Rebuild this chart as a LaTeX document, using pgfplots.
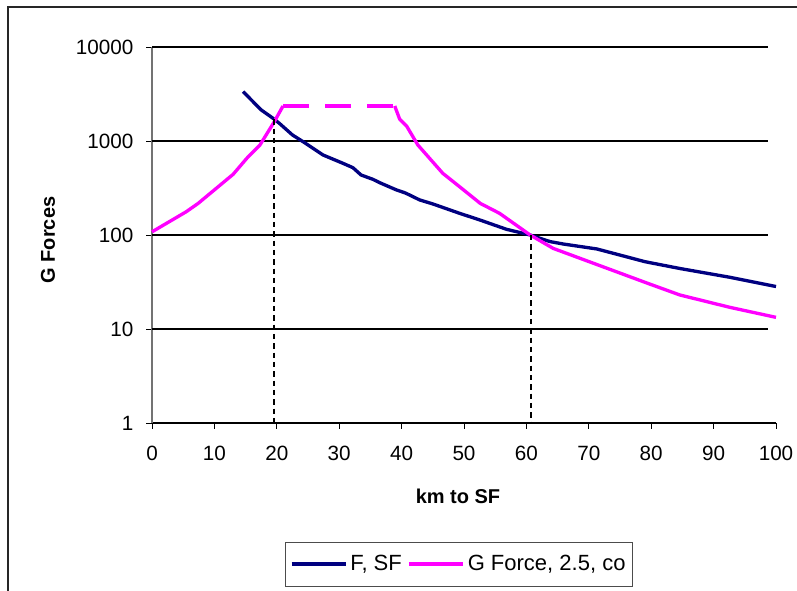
\documentclass[border=0pt]{standalone}
\usepackage{fontspec}
\setmainfont{Liberation Sans}
\usepackage{pgfplots}
\pgfplotsset{compat=1.18}
\definecolor{navyc}{RGB}{0,0,128}
\definecolor{pinkc}{RGB}{255,0,255}
\begin{document}
\begin{tikzpicture}[x=0.75pt,y=0.75pt]
\path[use as bounding box] (0,0) rectangle (797,591);
\draw[line width=1.5pt, black!85] (8,-5) -- (8,584) -- (805,584);
\begin{axis}[
  at={(114pt,126pt)}, anchor=south west,
  scale only axis, width=468pt, height=282pt,
  ymode=log, xmin=0, xmax=100, ymin=1, ymax=10000,
  axis x line=bottom, axis y line=left,
  x axis line style={-, black, line width=0.8pt},
  y axis line style={-, black!55, line width=0.8pt},
  xtick={0,10,...,100},
  ytick={1,10,100,1000,10000},
  yticklabels={1,10,100,1000,10000},
  tick align=outside, major tick length=4.5pt,
  tick style={black, line width=0.6pt},
  minor tick num=0, yminorticks=false,
  /pgf/number format/assume math mode=true,
  ticklabel style={font=\fontsize{15.5}{18}\selectfont},
  xticklabel style={yshift=-9pt},
  yticklabel style={xshift=-6pt},
  clip=false,
  legend style={at={(0.492,-0.375)}, anchor=center, legend columns=2,
    draw=black!70, line width=0.6pt, font=\fontsize{16.5}{19}\selectfont,
    inner xsep=3pt, inner ysep=8pt,
    /tikz/every even column/.append style={column sep=2pt}},
  legend cell align=left,
  legend image post style={xscale=2.4},
]
% gridlines
\foreach \k in {10,100,1000,10000} {
  \edef\tmp{\noexpand\draw[black, line width=0.8pt] (axis cs:0,\k) -- (axis cs:98.7,\k);}\tmp
}
\addplot[navyc, line width=2.5pt, line join=round] coordinates {
(14.6,3350) (17.5,2140) (19.4,1743) (20.4,1543) (22.5,1160) (24.2,984)
(27.4,710) (30.6,579) (32.2,520) (33.5,435) (35.4,391) (36.5,360) (39.2,301)
(40.6,280) (42.9,236) (45,214) (49.3,170) (52.6,144) (56.8,115) (60.6,100)
(63.8,85) (66,80) (71.3,71) (79,52) (84.6,44) (92.6,35.5) (100,28.3)
};
\addlegendentry{F, SF}
\addplot[pinkc, line width=2.5pt, line join=round] coordinates {
(0,108) (5.5,177) (7.4,217) (13,442) (15.2,655) (17.3,907) (19.6,1604) (21,2356)
};
\addlegendentry{G Force, 2.5, co}
\addplot[pinkc, line width=2.5pt, dash pattern=on 19.5pt off 12pt, forget plot] coordinates {
(21,2356) (38.9,2356)
};
\addplot[pinkc, line width=2.5pt, line join=round, forget plot] coordinates {
(38.9,2356) (39.7,1702) (40.8,1443) (42.6,907) (46.6,453) (49.3,326) (52.6,217)
(55.7,170) (60.6,100) (64.3,72) (79.8,30) (84.6,23) (92.6,17) (100,13.3)
};
\addplot[black, line width=1.4pt, dash pattern=on 4pt off 3pt, forget plot] coordinates {(19.5,1700) (19.5,1)};
\addplot[black, line width=1.4pt, dash pattern=on 4pt off 3pt, forget plot] coordinates {(60.7,100) (60.7,1)};
\end{axis}
\node[font=\bfseries\fontsize{15}{18}\selectfont, rotate=90] at (48,351) {G Forces};
\node[font=\bfseries\fontsize{15}{18}\selectfont] at (458,95) {km to SF};
\end{tikzpicture}
\end{document}
